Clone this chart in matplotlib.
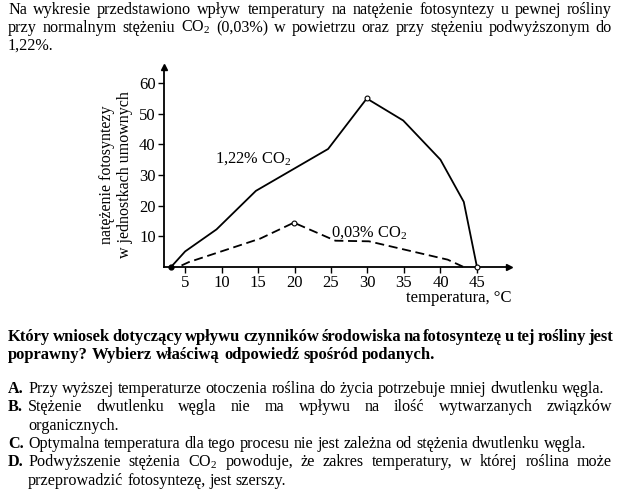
import matplotlib
matplotlib.use("Agg")
import matplotlib.pyplot as plt

W, H = 622, 499
SERIF = ['Liberation Serif', 'DejaVu Serif']
plt.rcParams['font.family'] = SERIF
plt.rcParams['mathtext.fontset'] = 'custom'
plt.rcParams['mathtext.rm'] = 'Liberation Serif'
plt.rcParams['mathtext.it'] = 'Liberation Serif:italic'
plt.rcParams['mathtext.bf'] = 'Liberation Serif:bold'

# ---- data ----
temp_high = [3.1, 5, 9.3, 14.7, 24.6, 29.9, 34.9, 40, 43.2, 45]
rate_high = [0, 5, 12.2, 24.8, 38.5, 55, 47.8, 35, 21.2, 0]
temp_low = [4.5, 5.5, 15.3, 19.9, 25.6, 30.2, 41.0, 43.1]
rate_low = [0.4, 1.5, 9.2, 14.4, 8.5, 8.3, 2.3, 0]
xticks = [5, 10, 15, 20, 25, 30, 35, 40, 45]
yticks = [10, 20, 30, 40, 50, 60]

intro_lines = [
    ("Na wykresie przedstawiono wpływ temperatury na natężenie fotosyntezy u pewnej rośliny", 612),
    ("przy normalnym stężeniu CO$_2$ (0,03%) w powietrzu oraz przy stężeniu podwyższonym do", 612),
    ("1,22%.", None),
]
question_lines = [
    ("Który wniosek dotyczący wpływu czynników środowiska na fotosyntezę u tej rośliny jest", 612),
    ("poprawny? Wybierz właściwą odpowiedź spośród podanych.", None),
]
answers = [
    ("A.", [("Przy wyższej temperaturze otoczenia roślina do życia potrzebuje mniej dwutlenku węgla.", None)]),
    ("B.", [("Stężenie dwutlenku węgla nie ma wpływu na ilość wytwarzanych związków", 612),
            ("organicznych.", None)]),
    ("C.", [("Optymalna temperatura dla tego procesu nie jest zależna od stężenia dwutlenku węgla.", None)]),
    ("D.", [("Podwyższenie stężenia CO$_2$ powoduje, że zakres temperatury, w której roślina może", 612),
            ("przeprowadzić fotosyntezę, jest szerszy.", None)]),
]

fig = plt.figure(figsize=(W / 100, H / 100), dpi=100)
fig.patch.set_facecolor('white')
renderer = fig.canvas.get_renderer()

TS = 11.6   # body text size (pt)
BS = 12.0   # bold question size (pt)


def fx(px):
    return px / W


def fy(py):
    return 1 - py / H


def place_line(text, y, x0, x1, weight='normal', size=TS):
    words = text.split(' ')
    objs = [fig.text(0, 0, w, fontsize=size, weight=weight, va='baseline', ha='left')
            for w in words]
    widths = [o.get_window_extent(renderer).width for o in objs]
    sp = fig.text(0, 0, 'a a', fontsize=size, weight=weight)
    sp2 = fig.text(0, 0, 'aa', fontsize=size, weight=weight)
    nat_gap = sp.get_window_extent(renderer).width - sp2.get_window_extent(renderer).width
    sp.remove(); sp2.remove()
    if x1 is not None and len(words) > 1:
        gap = (x1 - x0 - sum(widths)) / (len(words) - 1)
        gap = max(gap, 0.6 * nat_gap)
    else:
        gap = nat_gap
    x = x0
    for o, w in zip(objs, widths):
        o.set_position((fx(x), fy(y)))
        x += w + gap


LEFT = 8
for i, (t, x1) in enumerate(intro_lines):
    place_line(t, 14 + 18 * i, LEFT, x1)
for i, (t, x1) in enumerate(question_lines):
    place_line(t, 341 + 18 * i, LEFT, x1, weight='bold', size=BS)

y = 393
for lab, lines in answers:
    fig.text(fx(LEFT), fy(y), lab, fontsize=TS, weight='bold', va='baseline', ha='left')
    for t, x1 in lines:
        place_line(t, y, 28, x1)
        y += 18.3

# ---- chart ----
x_lo, x_hi = 2.1, 49.4
y_lo, y_hi = 0, 65.3
ax_l, ax_r, ax_b, ax_t = 164, 509, 266.7, 67
ax = fig.add_axes([fx(ax_l), fy(ax_b), (ax_r - ax_l) / W, (ax_b - ax_t) / H])
ax.set_xlim(x_lo, x_hi)
ax.set_ylim(y_lo, y_hi)
ax.patch.set_alpha(0)
for s in ['top', 'right']:
    ax.spines[s].set_visible(False)
for s in ['left', 'bottom']:
    ax.spines[s].set_linewidth(1.3)

ax.plot(1, 0, marker='>', color='k', markersize=5, transform=ax.transAxes, clip_on=False)
ax.plot(0, 1, marker='^', color='k', markersize=5, transform=ax.transAxes, clip_on=False)

ax.set_xticks(xticks)
ax.set_yticks(yticks)
ax.set_xticklabels([str(v) for v in xticks])
ax.set_yticklabels([str(v) for v in yticks])
ax.tick_params(direction='out', length=4, width=1, labelsize=12, pad=2)

ax.plot(temp_high, rate_high, color='k', lw=1.3, clip_on=False)
ax.plot(temp_low, rate_low, color='k', lw=1.3, linestyle=(0, (5, 2.6)), clip_on=False)
ax.plot([temp_high[0]], [rate_high[0]], 'o', color='k', markersize=3.5, clip_on=False)
ax.plot([temp_high[5], temp_high[-1], temp_low[3]], [rate_high[5], rate_high[-1], rate_low[3]],
        'o', mfc='white', mec='k', markersize=3.5, mew=0.8, clip_on=False, zorder=5)

ax.text(9.1, 35.3, '1,22% CO$_2$', fontsize=11.8, va='center', ha='left')
ax.text(25, 11.2, '0,03% CO$_2$', fontsize=11.8, va='center', ha='left')

fig.text(fx(512), fy(302), 'temperatura, °C', fontsize=12, ha='right', va='baseline')
fig.text(fx(116), fy(175), 'natężenie fotosyntezy\nw jednostkach umownych', fontsize=11.5,
         rotation=90, ha='center', va='center', multialignment='center', linespacing=1.1)

fig.savefig('out.png', dpi=100)
